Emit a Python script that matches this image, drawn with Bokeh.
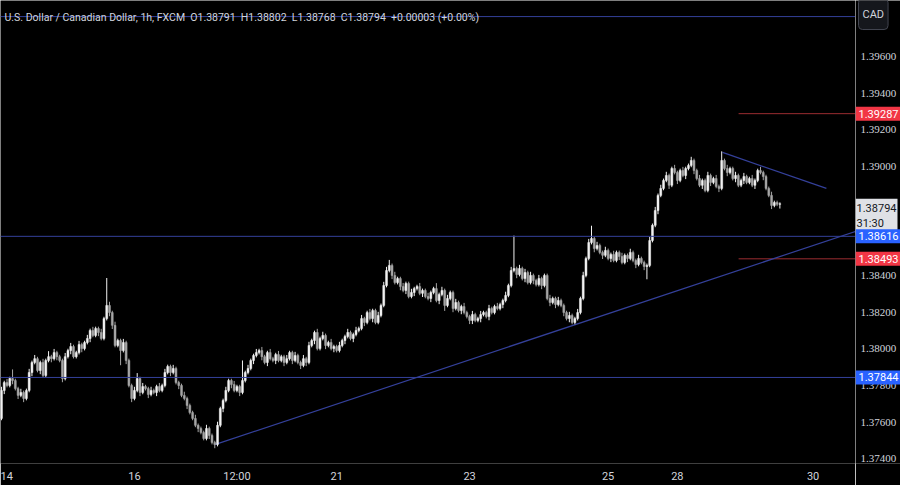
from bokeh.plotting import figure
from bokeh.layouts import row
from bokeh.models import Span, Label, FixedTicker, Range1d, ColumnDataSource
from bokeh.embed import file_html
from bokeh.resources import INLINE

# ---------------- data (USD/CAD, 1h candles) ----------------
first_open = 1.37620
closes = [
    1.37773, 1.37816, 1.37800, 1.37838, 1.37827, 1.37783, 1.37746, 1.37762, 1.37729, 1.37773,
    1.37871, 1.37926, 1.37947, 1.37882, 1.37926, 1.37855, 1.37937, 1.37958, 1.37947, 1.37980,
    1.37958, 1.37937, 1.37838, 1.37958, 1.37991, 1.38013, 1.37958, 1.37980, 1.38024, 1.38002,
    1.38035, 1.38057, 1.38101, 1.38074, 1.38112, 1.38090, 1.38057, 1.38166, 1.38238, 1.38199,
    1.38129, 1.38019, 1.38046, 1.37991, 1.38035, 1.37937, 1.37800, 1.37729, 1.37773, 1.37838,
    1.37762, 1.37794, 1.37783, 1.37751, 1.37773, 1.37762, 1.37794, 1.37773, 1.37800, 1.37871,
    1.37904, 1.37871, 1.37893, 1.37816, 1.37800, 1.37746, 1.37729, 1.37691, 1.37652, 1.37620,
    1.37582, 1.37565, 1.37543, 1.37510, 1.37565, 1.37527, 1.37488, 1.37477, 1.37582, 1.37674,
    1.37718, 1.37773, 1.37827, 1.37805, 1.37773, 1.37794, 1.37762, 1.37827, 1.37871, 1.37893,
    1.37937, 1.37964, 1.37980, 1.37991, 1.37958, 1.37926, 1.37980, 1.37947, 1.37937, 1.37969,
    1.37937, 1.37958, 1.37926, 1.37947, 1.37980, 1.37937, 1.37964, 1.37926, 1.37910, 1.37947,
    1.37926, 1.38019, 1.38046, 1.38090, 1.38002, 1.38057, 1.38074, 1.38019, 1.38035, 1.38002,
    1.38013, 1.37991, 1.38019, 1.38046, 1.38068, 1.38090, 1.38057, 1.38079, 1.38101, 1.38112,
    1.38166, 1.38145, 1.38199, 1.38166, 1.38210, 1.38145, 1.38183, 1.38238, 1.38347, 1.38429,
    1.38457, 1.38402, 1.38363, 1.38385, 1.38341, 1.38320, 1.38358, 1.38287, 1.38309, 1.38330,
    1.38341, 1.38304, 1.38320, 1.38287, 1.38276, 1.38309, 1.38330, 1.38265, 1.38298, 1.38320,
    1.38238, 1.38276, 1.38309, 1.38221, 1.38254, 1.38210, 1.38232, 1.38199, 1.38177, 1.38156,
    1.38188, 1.38156, 1.38166, 1.38188, 1.38199, 1.38177, 1.38221, 1.38199, 1.38232, 1.38221,
    1.38243, 1.38265, 1.38293, 1.38347, 1.38429, 1.38440, 1.38407, 1.38440, 1.38385, 1.38418,
    1.38363, 1.38402, 1.38374, 1.38352, 1.38385, 1.38347, 1.38402, 1.38276, 1.38254, 1.38276,
    1.38243, 1.38265, 1.38238, 1.38199, 1.38166, 1.38183, 1.38145, 1.38166, 1.38199, 1.38276,
    1.38402, 1.38495, 1.38582, 1.38604, 1.38549, 1.38566, 1.38528, 1.38512, 1.38539, 1.38495,
    1.38517, 1.38484, 1.38528, 1.38506, 1.38473, 1.38512, 1.38495, 1.38528, 1.38484, 1.38462,
    1.38495, 1.38473, 1.38451, 1.38457, 1.38593, 1.38676, 1.38757, 1.38840, 1.38878, 1.38922,
    1.38949, 1.38895, 1.38987, 1.38965, 1.38922, 1.38976, 1.38949, 1.38987, 1.39004, 1.39031,
    1.38976, 1.38932, 1.38895, 1.38922, 1.38867, 1.38949, 1.38911, 1.38932, 1.38889, 1.38878,
    1.39031, 1.38987, 1.38965, 1.38987, 1.38932, 1.38949, 1.38895, 1.38922, 1.38943, 1.38911,
    1.38932, 1.38895, 1.38922, 1.38976, 1.38965, 1.38943, 1.38878, 1.38840, 1.38785, 1.38801,
    1.38791, 1.38794,
]
# wick lengths beyond the body, in pips (0.0001)
wick_up_pips = [
    2, 1, 2, 1, 5, 1, 1, 2, 1, 1,
    2, 1, 2, 1, 1, 2, 1, 3, 1, 2,
    1, 1, 1, 2, 1, 2, 1, 1, 2, 1,
    1, 2, 1, 2, 1, 1, 2, 1, 15, 2,
    1, 2, 1, 1, 2, 1, 1, 1, 2, 3,
    1, 2, 1, 1, 2, 1, 1, 2, 1, 2,
    1, 1, 2, 1, 1, 1, 2, 1, 1, 1,
    2, 1, 1, 1, 2, 1, 1, 1, 2, 1,
    1, 2, 1, 1, 2, 1, 1, 11, 1, 2,
    1, 1, 2, 1, 2, 1, 1, 2, 1, 1,
    2, 1, 1, 2, 1, 1, 2, 1, 1, 2,
    1, 2, 1, 1, 2, 1, 2, 1, 1, 2,
    1, 1, 2, 1, 1, 2, 1, 1, 2, 1,
    2, 1, 1, 2, 1, 1, 2, 1, 2, 2,
    3, 1, 2, 1, 1, 2, 1, 1, 2, 1,
    1, 2, 1, 1, 2, 1, 1, 3, 1, 2,
    1, 2, 1, 1, 2, 1, 1, 2, 1, 1,
    2, 1, 1, 2, 1, 1, 2, 1, 1, 2,
    1, 1, 2, 1, 2, 18, 1, 2, 1, 2,
    1, 2, 1, 1, 2, 1, 1, 1, 2, 1,
    1, 2, 1, 1, 1, 2, 1, 1, 2, 1,
    2, 1, 2, 7, 1, 2, 1, 1, 2, 1,
    1, 2, 1, 1, 2, 1, 1, 2, 1, 1,
    2, 1, 1, 1, 2, 1, 2, 1, 2, 1,
    2, 1, 1, 2, 1, 1, 2, 1, 1, 2,
    1, 1, 2, 1, 1, 2, 1, 1, 2, 1,
    5, 1, 2, 1, 1, 2, 1, 1, 2, 1,
    1, 2, 1, 1, 2, 1, 1, 1, 2, 1,
    1, 0.8,
]
wick_dn_pips = [
    1, 2, 1, 1, 2, 1, 2, 1, 2, 1,
    1, 2, 1, 1, 2, 1, 1, 1, 2, 1,
    2, 1, 2, 1, 1, 2, 1, 1, 1, 2,
    1, 1, 2, 1, 1, 2, 1, 1, 1, 2,
    2, 1, 1, 8, 1, 2, 1, 2, 1, 1,
    2, 1, 1, 2, 1, 1, 2, 1, 1, 1,
    1, 2, 1, 1, 2, 1, 1, 2, 1, 1,
    1, 2, 1, 1, 1, 2, 1, 2, 1, 1,
    2, 1, 1, 2, 1, 1, 2, 1, 1, 1,
    1, 2, 1, 1, 2, 1, 2, 1, 1, 2,
    1, 1, 2, 1, 1, 2, 1, 1, 2, 1,
    2, 1, 1, 2, 1, 1, 1, 2, 1, 1,
    2, 1, 1, 1, 2, 1, 1, 2, 1, 1,
    1, 2, 1, 1, 2, 1, 1, 1, 1, 1,
    1, 2, 1, 1, 2, 1, 2, 1, 1, 2,
    1, 1, 2, 1, 1, 2, 1, 1, 2, 1,
    3, 1, 1, 2, 1, 1, 2, 1, 1, 2,
    2, 1, 1, 2, 1, 1, 2, 1, 1, 1,
    1, 2, 1, 1, 1, 1, 2, 1, 1, 2,
    1, 1, 2, 1, 1, 2, 1, 1, 2, 1,
    2, 1, 1, 2, 1, 2, 1, 1, 1, 1,
    1, 1, 1, 1, 2, 1, 1, 2, 1, 1,
    2, 1, 1, 2, 1, 1, 2, 1, 1, 2,
    1, 1, 2, 7, 1, 1, 1, 2, 1, 1,
    1, 2, 1, 1, 2, 1, 1, 2, 1, 1,
    2, 1, 1, 2, 1, 1, 2, 1, 1, 2,
    1, 1, 2, 1, 1, 2, 1, 1, 2, 1,
    1, 1, 2, 1, 1, 2, 1, 1, 2, 1,
    1, 2.3,
]

price_ticks = [1.374, 1.376, 1.378, 1.380, 1.382, 1.384, 1.386, 1.388, 1.390, 1.392, 1.394, 1.396]
x_tick_pos = [0, 48, 85, 121, 169, 219, 244, 293]
x_tick_labels = ["14", "16", "12:00", "21", "23", "25", "28", "30"]

blue_levels = [1.39818, 1.38616, 1.37844]
red_levels = [1.39287, 1.38493]
red_start = 266.1
trend_up = ([77, 308.3], [1.37477, 1.38643])
trend_down = ([260.3, 297.8], [1.39075, 1.38878])

last_close = 1.38794
countdown = "31:30"
currency = "CAD"
header = ("U.S. Dollar / Canadian Dollar, 1h, FXCM \u00a0O1.38791 \u00a0H1.38802 \u00a0L1.38768"
          " \u00a0C1.38794 \u00a0+0.00003 (+0.00%)")

# ---------------- build ----------------
n = len(closes)
xs = list(range(n))
opens = [first_open] + closes[:-1]
tops, bots, highs, lows, cols = [], [], [], [], []
for o, c, u, d in zip(opens, closes, wick_up_pips, wick_dn_pips):
    t, b = max(o, c), min(o, c)
    tops.append(t)
    bots.append(b)
    highs.append(t + u * 0.0001)
    lows.append(b - d * 0.0001)
    cols.append("#f2f2f2" if c >= o else "#a6a6a6")

src = ColumnDataSource(dict(x=xs, top=tops, bottom=bots, high=highs, low=lows, color=cols))

FONT = "Roboto"
TXT = "#d1d4dc"
FS = "11px"
BG = "#000000"

yr = Range1d(1.373734, 1.39906)

# main chart panel
p = figure(width=855, height=485, output_backend="svg", toolbar_location=None,
           x_range=Range1d(-0.35, 308.3), y_range=yr,
           background_fill_color=BG, border_fill_color=BG,
           min_border_left=0, min_border_right=0, min_border_top=0, min_border_bottom=22,
           y_axis_location=None)
p.outline_line_color = None
p.xgrid.visible = False
p.ygrid.visible = False

xa = p.xaxis[0]
xa.ticker = FixedTicker(ticks=x_tick_pos)
xa.major_label_overrides = {k: v for k, v in zip(x_tick_pos, x_tick_labels)}
xa.axis_line_color = None
xa.major_tick_line_color = None
xa.minor_tick_line_color = None
xa.major_tick_out = 0
xa.major_tick_in = 0
xa.major_label_text_color = TXT
xa.major_label_text_font = FONT
xa.major_label_text_font_size = FS
xa.major_label_standoff = 6

LINE_BLUE = "#34409a"
LINE_RED = "#9b2c31"
for lv in blue_levels:
    p.add_layout(Span(location=lv, dimension="width", line_color=LINE_BLUE, line_width=1))
p.segment(x0=[red_start] * len(red_levels), x1=[320] * len(red_levels), y0=red_levels, y1=red_levels,
          line_color=LINE_RED, line_width=1)
p.line(trend_up[0], trend_up[1], line_color=LINE_BLUE, line_width=1.2)
p.line(trend_down[0], trend_down[1], line_color=LINE_BLUE, line_width=1.2)

p.segment(x0="x", y0="low", x1="x", y1="high", line_color="color", line_width=1, source=src)
p.vbar(x="x", width=0.7, top="top", bottom="bottom", fill_color="color", line_color="color",
       line_width=0.5, source=src)

p.add_layout(Label(x=1.1, y=1.39813, text=header, text_color=TXT, text_font=FONT,
                   text_font_size="10.5px", text_baseline="alphabetic", text_align="left"))

# price-scale panel (shares the price range)
s = figure(width=45, height=485, output_backend="svg", toolbar_location=None,
           x_range=Range1d(0, 45), y_range=yr,
           background_fill_color=BG, border_fill_color=BG,
           min_border_left=0, min_border_right=0, min_border_top=0, min_border_bottom=22,
           x_axis_location=None, y_axis_location=None)
s.outline_line_color = None
s.xgrid.visible = False
s.ygrid.visible = False

tick_src = ColumnDataSource(dict(y=price_ticks, x=[5] * len(price_ticks),
                                 t=[f"{v:.5f}" for v in price_ticks]))
s.text(x="x", y="y", text="t", source=tick_src, text_color=TXT, text_font=FONT,
       text_font_size=FS, text_align="left", text_baseline="middle")

def box(price, txt, bg, fg, baseline="middle", yoff=0, pad=3, fs=FS):
    s.add_layout(Label(x=0, y=price, y_offset=yoff, text=txt, text_color=fg,
                       text_font=FONT, text_font_size=fs,
                       text_align="left", text_baseline=baseline,
                       background_fill_color=bg, padding=pad))

box(last_close, "1.38794\n" + countdown, "#dfe1e6", "#131722", baseline="top", yoff=5,
    pad=(1, 3))
box(red_levels[0], "1.39287", "#f23645", "#ffffff")
box(blue_levels[1], "1.38616", "#2962ff", "#ffffff")
box(red_levels[1], "1.38493", "#f23645", "#ffffff")
box(blue_levels[2], "1.37844", "#2962ff", "#ffffff")

s.add_layout(Label(x=3, y=1.39832, text=currency, text_color=TXT, text_font=FONT,
                   text_font_size=FS, text_align="left", text_baseline="middle",
                   background_fill_color="#15171c", border_line_color="#434651",
                   border_line_width=1, border_radius=4, padding=(4, 9)))

layout = row(p, s, spacing=0)
open("out.html", "w").write(file_html(layout, INLINE))
